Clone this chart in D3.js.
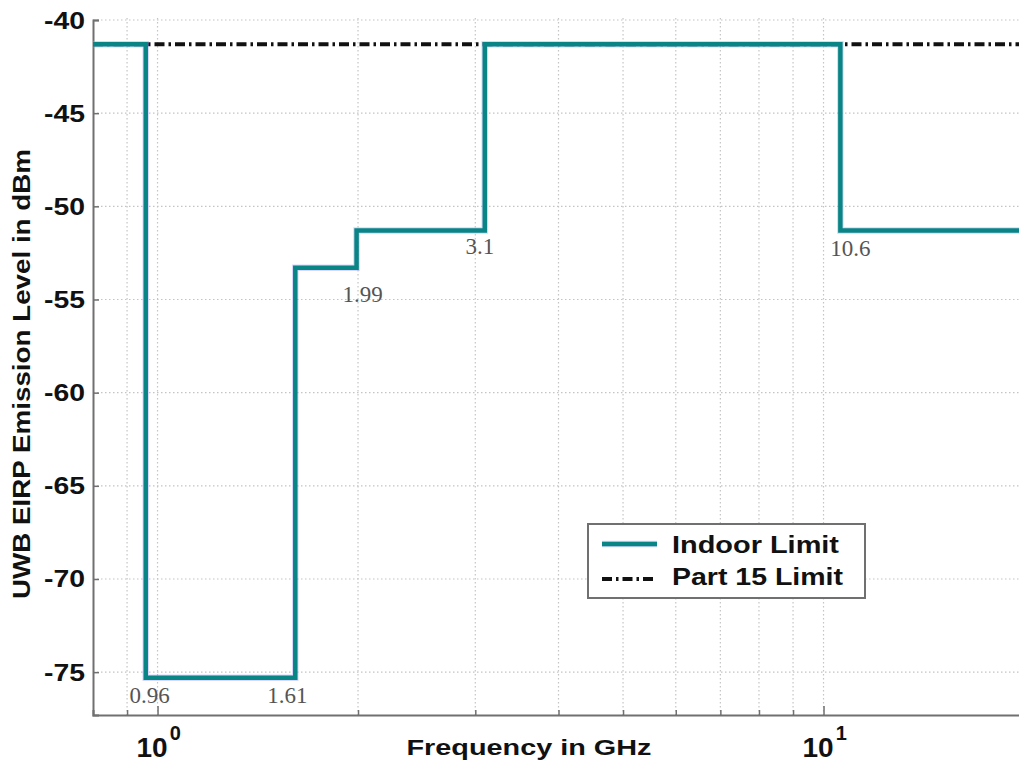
<!DOCTYPE html>
<html>
<head>
<meta charset="utf-8">
<script src="https://cdn.jsdelivr.net/npm/d3@7"></script>
<style>
  html, body { margin: 0; padding: 0; background: #fff; }
  svg { display: block; }
  .sans { font-family: Arial, "Liberation Sans", Helvetica, sans-serif; font-weight: bold; fill: #111; }
  .serif { font-family: "Times New Roman", "Liberation Serif", serif; fill: #555; }
</style>
</head>
<body>
<svg id="chart" width="1019" height="771"></svg>
<script>
// Frequency breakpoints (GHz) of the indoor UWB emission mask and the level of each band (dBm)
const bandEdges = [0.8, 0.96, 1.61, 1.99, 3.1, 10.6, 20];
const indoorLevels = [-41.3, -75.3, -53.3, -51.3, -41.3, -51.3];
const part15Level = -41.3;
// Breakpoints annotated on the plot
const edgeLabels = ["0.96", "1.61", "1.99", "3.1", "10.6"];
const edgeLabelFreqs = [0.96, 1.61, 1.99, 3.1, 10.6];
const edgeLabelLevels = [-75.3, -75.3, -53.3, -51.3, -51.3];
// Axis ticks
const yTicks = [-40, -45, -50, -55, -60, -65, -70, -75];
const xMajorTicks = [1, 10];
const xMinorTicks = [0.9, 1, 2, 3, 4, 5, 6, 7, 8, 9, 10, 20];
const seriesNames = ["Indoor Limit", "Part 15 Limit"];

const svg = d3.select("#chart");
const plotLeft = 93, plotRight = 1024, plotTop = 20, plotBottom = 715;

const x = d3.scaleLog().domain([0.8, 20]).range([plotLeft, plotRight]);
const y = d3.scaleLinear().domain([-77.3, -40]).range([plotBottom, plotTop]);

const TEAL = "#0a8585";
const HALO = "#9a9aff";
const AXIS = "#707070";
const DASHDOT = "10,4,2.5,4";

// Dotted grid
const grid = svg.append("g");
grid.selectAll("line.v").data(xMinorTicks).join("line").attr("class", "v")
  .attr("x1", d => x(d)).attr("x2", d => x(d))
  .attr("y1", plotTop - 2).attr("y2", plotBottom)
  .attr("stroke", "#c4c4c4").attr("stroke-width", 1.2)
  .attr("stroke-dasharray", "1.5,2.5");
grid.selectAll("line.h").data(yTicks).join("line").attr("class", "h")
  .attr("x1", plotLeft).attr("x2", plotRight)
  .attr("y1", d => y(d)).attr("y2", d => y(d))
  .attr("stroke", "#c4c4c4").attr("stroke-width", 1.2)
  .attr("stroke-dasharray", "1.5,2.5");

// Axes: left and bottom lines with inward ticks
const yAxis = d3.axisLeft(y).tickValues(yTicks).tickSize(-6).tickFormat("");
svg.append("g").attr("transform", `translate(${plotLeft},0)`).call(yAxis)
  .call(g => g.select(".domain").attr("stroke", AXIS).attr("stroke-width", 2))
  .call(g => g.selectAll(".tick line").attr("stroke", AXIS).attr("stroke-width", 1.5));

const xAxis = d3.axisBottom(x).tickValues(xMinorTicks).tickSize(-5).tickFormat("");
svg.append("g").attr("transform", `translate(0,${plotBottom})`).call(xAxis)
  .call(g => g.select(".domain").attr("stroke", AXIS).attr("stroke-width", 2))
  .call(g => g.selectAll(".tick line").attr("stroke", AXIS).attr("stroke-width", 1.5)
    .attr("y2", d => xMajorTicks.includes(d) ? -9 : -5));

// Y tick labels
svg.append("g").selectAll("text").data(yTicks).join("text")
  .attr("class", "sans")
  .attr("x", 85).attr("y", d => y(d) + 8.5)
  .attr("text-anchor", "end")
  .attr("font-size", 23)
  .attr("textLength", 41).attr("lengthAdjust", "spacingAndGlyphs")
  .text(d => String(d));

// X tick labels as powers of ten
const xl = svg.append("g").selectAll("text").data(xMajorTicks).join("text")
  .attr("class", "sans")
  .attr("x", d => x(d) - 21).attr("y", 757)
  .attr("font-size", 28);
xl.append("tspan").text("10");
xl.append("tspan").attr("font-size", 20).attr("dy", -17).attr("dx", 2)
  .text(d => Math.round(Math.log10(d)));

// Axis titles
svg.append("text").attr("class", "sans")
  .attr("x", 529).attr("y", 755).attr("text-anchor", "middle")
  .attr("font-size", 22).attr("textLength", 245).attr("lengthAdjust", "spacingAndGlyphs")
  .text("Frequency in GHz");
svg.append("text").attr("class", "sans")
  .attr("transform", "translate(30,374) rotate(-90)")
  .attr("text-anchor", "middle")
  .attr("font-size", 23).attr("textLength", 450).attr("lengthAdjust", "spacingAndGlyphs")
  .text("UWB EIRP Emission Level in dBm");

// Part 15 limit: dash-dot line across the whole band
svg.append("line")
  .attr("x1", plotLeft).attr("x2", plotRight)
  .attr("y1", y(part15Level)).attr("y2", y(part15Level))
  .attr("stroke", "#111").attr("stroke-width", 4)
  .attr("stroke-dasharray", DASHDOT);

// Indoor limit mask as a step line
const stepPoints = bandEdges.map((f, i) => [f, indoorLevels[Math.min(i, indoorLevels.length - 1)]]);
const line = d3.line().x(d => x(d[0])).y(d => y(d[1])).curve(d3.curveStepAfter);
svg.append("path").datum(stepPoints)
  .attr("d", line).attr("fill", "none")
  .attr("stroke", HALO).attr("stroke-opacity", 0.4).attr("stroke-width", 6.5);
svg.append("path").datum(stepPoints)
  .attr("d", line).attr("fill", "none")
  .attr("stroke", TEAL).attr("stroke-width", 4.5);

// Breakpoint annotations
const labelOffsets = [[4, 25.5], [-8, 25.5], [6, 34], [-5, 23], [10, 25]];
svg.append("g").selectAll("text").data(edgeLabels).join("text")
  .attr("class", "serif")
  .attr("x", (d, i) => x(edgeLabelFreqs[i]) + labelOffsets[i][0])
  .attr("y", (d, i) => y(edgeLabelLevels[i]) + labelOffsets[i][1])
  .attr("text-anchor", "middle")
  .attr("font-size", 23)
  .text(d => d);

// Legend
const lg = svg.append("g");
lg.append("rect").attr("x", 588).attr("y", 524).attr("width", 277).attr("height", 74)
  .attr("fill", "#fff").attr("stroke", AXIS).attr("stroke-width", 2);
lg.append("line").attr("x1", 602).attr("x2", 657).attr("y1", 544).attr("y2", 544)
  .attr("stroke", HALO).attr("stroke-opacity", 0.4).attr("stroke-width", 6.5);
lg.append("line").attr("x1", 602).attr("x2", 657).attr("y1", 544).attr("y2", 544)
  .attr("stroke", TEAL).attr("stroke-width", 4.5);
lg.append("line").attr("x1", 602).attr("x2", 654).attr("y1", 579).attr("y2", 579)
  .attr("stroke", "#111").attr("stroke-width", 4).attr("stroke-dasharray", DASHDOT);
lg.selectAll("text").data(seriesNames).join("text")
  .attr("class", "sans")
  .attr("x", 672).attr("y", (d, i) => 553 + i * 32)
  .attr("font-size", 24)
  .attr("textLength", (d, i) => i === 0 ? 167 : 171).attr("lengthAdjust", "spacingAndGlyphs")
  .text(d => d);
</script>
</body>
</html>
